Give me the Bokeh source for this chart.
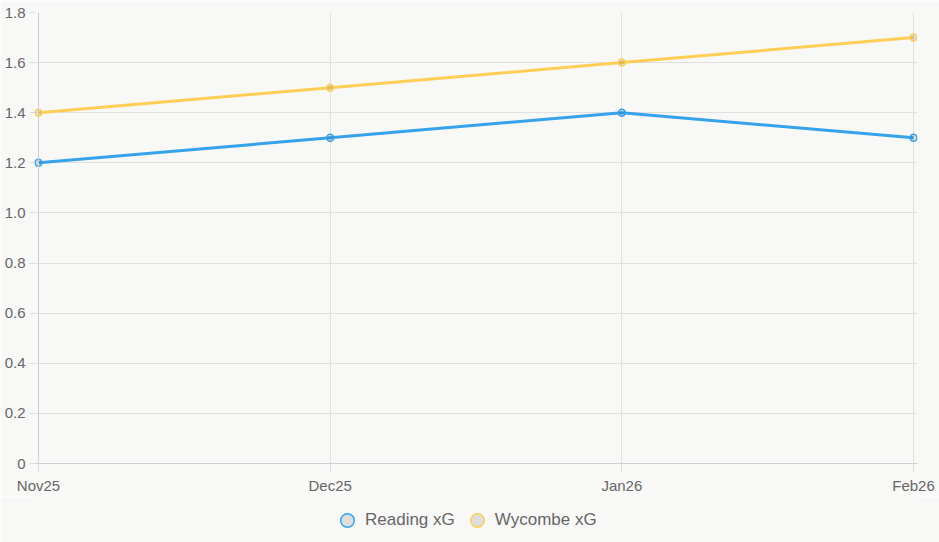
from bokeh.plotting import figure
from bokeh.models import Range1d, FixedTicker, Legend, LegendItem, Span
from bokeh.layouts import column
from bokeh.embed import file_html
from bokeh.resources import INLINE

months = ["Nov25", "Dec25", "Jan26", "Feb26"]
reading_xg = [1.2, 1.3, 1.4, 1.3]
wycombe_xg = [1.4, 1.5, 1.6, 1.7]
y_ticks = [0, 0.2, 0.4, 0.6, 0.8, 1.0, 1.2, 1.4, 1.6, 1.8]
series_names = ["Reading xG", "Wycombe xG"]

BG = "#f8f8f6"
FONT = "Liberation Sans"
BLUE = "#36A2EB"
YELLOW = "#FFCE56"
GRID = "#e0e0de"
PT_FILL = "rgba(0,0,0,0.1)"

xs = list(range(len(months)))
n = len(months) - 1
pad = 4 * n / 875.0  # 4px of room so edge markers are not clipped

p = figure(width=939, height=496, output_backend="svg", toolbar_location=None,
           x_range=Range1d(-pad, n + pad), y_range=Range1d(0, 1.8),
           min_border_left=34, min_border_right=22, min_border_top=12, min_border_bottom=31)
p.background_fill_color = BG
p.border_fill_color = BG
p.outline_line_color = None

p.xaxis.ticker = FixedTicker(ticks=xs)
p.xaxis.major_label_overrides = {i: m for i, m in enumerate(months)}
p.yaxis.ticker = FixedTicker(ticks=y_ticks)
p.yaxis.major_label_overrides = {0: "0", 1: "1.0"}

for ax in (p.xaxis, p.yaxis):
    ax.major_tick_line_color = "#dcdcdc"
    ax.minor_tick_line_color = None
    ax.major_tick_in = 0
    ax.major_label_text_font = FONT
    ax.major_label_text_font_size = "15px"
    ax.major_label_text_color = "#666666"
p.xaxis.axis_line_color = "#cfcfcf"
p.yaxis.axis_line_color = None
p.yaxis.major_tick_out = 5
p.yaxis.major_label_standoff = 4
p.xaxis.major_tick_out = 9
p.xaxis.major_label_standoff = 4

p.xgrid.ticker = FixedTicker(ticks=xs)
p.ygrid.ticker = FixedTicker(ticks=y_ticks)
p.xgrid.grid_line_color = GRID
p.ygrid.grid_line_color = GRID

p.add_layout(Span(location=0, dimension="height", line_color="#cfcfcf", line_width=1))

p.line(xs, reading_xg, line_color=BLUE, line_width=3)
p.line(xs, wycombe_xg, line_color=YELLOW, line_width=3)
p.scatter(xs, reading_xg, size=7, marker="circle", line_color=BLUE, line_width=1.5,
          fill_color=PT_FILL)
p.scatter(xs, wycombe_xg, size=7, marker="circle", line_color=YELLOW, line_width=1.5,
          fill_color=PT_FILL)

# legend strip below the chart
lg = figure(width=939, height=46, output_backend="svg", toolbar_location=None,
            x_range=Range1d(0, 1), y_range=Range1d(0, 1),
            x_axis_location=None, y_axis_location=None, min_border=0)
lg.background_fill_color = BG
lg.border_fill_color = BG
lg.outline_line_color = None
lg.grid.visible = False
k1 = lg.scatter([-10], [-10], size=13, marker="circle", line_color=BLUE, line_width=1.5,
                fill_color=PT_FILL)
k2 = lg.scatter([-10], [-10], size=13, marker="circle", line_color=YELLOW, line_width=1.5,
                fill_color=PT_FILL)
legend = Legend(items=[LegendItem(label=series_names[0], renderers=[k1]),
                       LegendItem(label=series_names[1], renderers=[k2])],
                location=(296, 5), orientation="horizontal",
                glyph_width=34, glyph_height=34, label_standoff=1, spacing=5,
                padding=0, margin=0,
                label_text_font=FONT, label_text_font_size="17px", label_text_color="#666666",
                background_fill_alpha=0, border_line_alpha=0)
lg.add_layout(legend, "center")

layout = column(p, lg, spacing=0)
open("out.html", "w").write(file_html(layout, INLINE))
